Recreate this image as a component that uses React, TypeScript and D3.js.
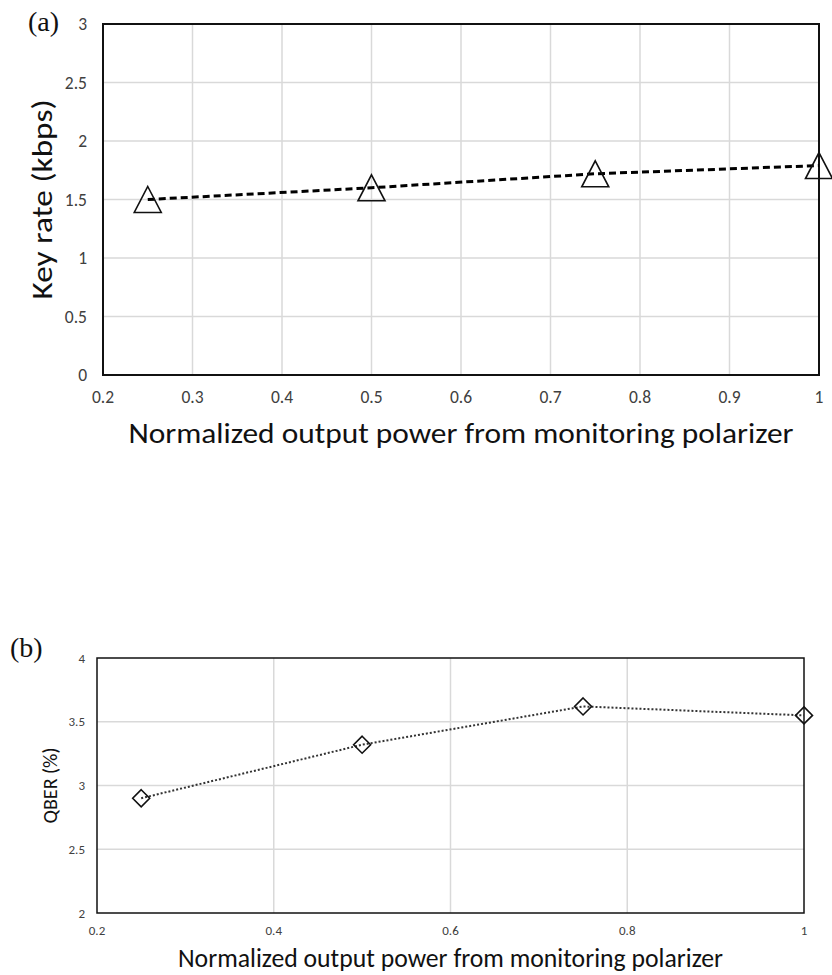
import { useEffect, useRef } from "react";
import * as d3 from "d3";

// panel (a): key rate
const powerA = [0.25, 0.5, 0.75, 1];
const keyRate = [1.5, 1.6, 1.72, 1.79];
const xTicksA = [0.2, 0.3, 0.4, 0.5, 0.6, 0.7, 0.8, 0.9, 1];
const yTicksA = [0, 0.5, 1, 1.5, 2, 2.5, 3];

// panel (b): QBER
const powerB = [0.25, 0.5, 0.75, 1];
const qber = [2.9, 3.32, 3.62, 3.55];
const xTicksB = [0.2, 0.4, 0.6, 0.8, 1];
const yTicksB = [2, 2.5, 3, 3.5, 4];

const xTitle = "Normalized output power from monitoring polarizer";
const sans = "Carlito, Calibri, 'Open Sans', sans-serif";

const App = () => {
  const svgRef = useRef(null);

  useEffect(() => {
    const svg = d3.select(svgRef.current);
    svg.selectAll("*").remove();

    const drawPanel = (opts) => {
      const { box, xDomain, yDomain, xTicks, yTicks, xs, ys } = opts;
      const x = d3.scaleLinear().domain(xDomain).range([box.left, box.right]);
      const y = d3.scaleLinear().domain(yDomain).range([box.bottom, box.top]);
      const g = svg.append("g");

      // gridlines
      g.selectAll(".vgrid")
        .data(xTicks.slice(1, -1))
        .enter()
        .append("line")
        .attr("x1", (d) => x(d))
        .attr("x2", (d) => x(d))
        .attr("y1", box.top)
        .attr("y2", box.bottom)
        .attr("stroke", "#d9d9d9")
        .attr("stroke-width", 1.5);
      g.selectAll(".hgrid")
        .data(yTicks.slice(1, -1))
        .enter()
        .append("line")
        .attr("x1", box.left)
        .attr("x2", box.right)
        .attr("y1", (d) => y(d))
        .attr("y2", (d) => y(d))
        .attr("stroke", "#d9d9d9")
        .attr("stroke-width", 1.5);

      // frame
      g.append("rect")
        .attr("x", box.left)
        .attr("y", box.top)
        .attr("width", box.right - box.left)
        .attr("height", box.bottom - box.top)
        .attr("fill", "none")
        .attr("stroke", "#111")
        .attr("stroke-width", opts.frameWidth);

      // tick labels
      g.selectAll(".xlab")
        .data(xTicks)
        .enter()
        .append("text")
        .attr("x", (d) => x(d))
        .attr("y", box.bottom + opts.xLabelDy)
        .attr("text-anchor", "middle")
        .attr("font-family", sans)
        .attr("font-size", opts.tickSize)
        .attr("fill", "#404040")
        .text((d) => d3.format("~g")(d));
      g.selectAll(".ylab")
        .data(yTicks)
        .enter()
        .append("text")
        .attr("x", box.left - opts.yLabelDx)
        .attr("y", (d) => y(d))
        .attr("dy", "0.35em")
        .attr("text-anchor", "end")
        .attr("font-family", sans)
        .attr("font-size", opts.tickSize)
        .attr("fill", "#404040")
        .text((d) => d3.format("~g")(d));

      // line
      const line = d3
        .line()
        .x((d, i) => x(xs[i]))
        .y((d) => y(d));
      g.append("path")
        .datum(ys)
        .attr("fill", "none")
        .attr("stroke", opts.lineColor)
        .attr("stroke-width", opts.lineWidth)
        .attr("stroke-dasharray", opts.dash)
        .attr("d", line);

      // markers
      g.selectAll(".marker")
        .data(ys)
        .enter()
        .append("path")
        .attr("transform", (d, i) => `translate(${x(xs[i])},${y(d)})`)
        .attr("d", opts.marker)
        .attr("fill", "none")
        .attr("stroke", "#111")
        .attr("stroke-width", opts.markerStroke);

      // axis titles
      g.append("text")
        .attr("x", (box.left + box.right) / 2)
        .attr("y", opts.xTitleY)
        .attr("text-anchor", "middle")
        .attr("font-family", sans)
        .attr("font-size", opts.xTitleSize)
        .attr("textLength", opts.xTitleLen)
        .attr("lengthAdjust", "spacingAndGlyphs")
        .attr("fill", "#111")
        .text(xTitle);
      g.append("text")
        .attr(
          "transform",
          `translate(${opts.yTitleX},${(box.top + box.bottom) / 2}) rotate(-90)`
        )
        .attr("text-anchor", "middle")
        .attr("font-family", sans)
        .attr("font-size", opts.yTitleSize)
        .attr("textLength", opts.yTitleLen)
        .attr("lengthAdjust", "spacingAndGlyphs")
        .attr("fill", "#111")
        .text(opts.yTitle);

      // panel letter
      g.append("text")
        .attr("x", opts.letterX)
        .attr("y", opts.letterY)
        .attr("font-family", "'Liberation Serif', serif")
        .attr("font-size", 28)
        .attr("fill", "#111")
        .text(opts.letter);
    };

    // triangle marker, 27 wide, 26 tall
    const triangle = "M0,-13L13.5,13L-13.5,13Z";
    // diamond marker, 17 across
    const diamond = "M0,-8.5L8.5,0L0,8.5L-8.5,0Z";

    drawPanel({
      box: { left: 103, right: 819, top: 24, bottom: 375 },
      xDomain: [0.2, 1],
      yDomain: [0, 3],
      xTicks: xTicksA,
      yTicks: yTicksA,
      xs: powerA,
      ys: keyRate,
      frameWidth: 2,
      tickSize: 17.5,
      xLabelDy: 28,
      yLabelDx: 16,
      lineColor: "#000",
      lineWidth: 3,
      dash: "7,4",
      marker: triangle,
      markerStroke: 1.6,
      xTitleY: 443,
      xTitleSize: 28,
      xTitleLen: 665,
      yTitleX: 52,
      yTitle: "Key rate (kbps)",
      yTitleSize: 28,
      yTitleLen: 200,
      letter: "(a)",
      letterX: 28,
      letterY: 31,
    });

    drawPanel({
      box: { left: 97, right: 804, top: 658, bottom: 913 },
      xDomain: [0.2, 1],
      yDomain: [2, 4],
      xTicks: xTicksB,
      yTicks: yTicksB,
      xs: powerB,
      ys: qber,
      frameWidth: 1.5,
      tickSize: 13,
      xLabelDy: 22,
      yLabelDx: 12,
      lineColor: "#333",
      lineWidth: 2,
      dash: "2,2",
      marker: diamond,
      markerStroke: 1.6,
      xTitleY: 967,
      xTitleSize: 26,
      xTitleLen: 545,
      yTitleX: 57,
      yTitle: "QBER (%)",
      yTitleSize: 20,
      yTitleLen: 76,
      letter: "(b)",
      letterX: 10,
      letterY: 657,
    });
  }, []);

  return (
    <svg
      ref={svgRef}
      width={832}
      height={975}
      style={{ position: "absolute", left: 0, top: 0, background: "#fff" }}
    ></svg>
  );
};

export default App;
